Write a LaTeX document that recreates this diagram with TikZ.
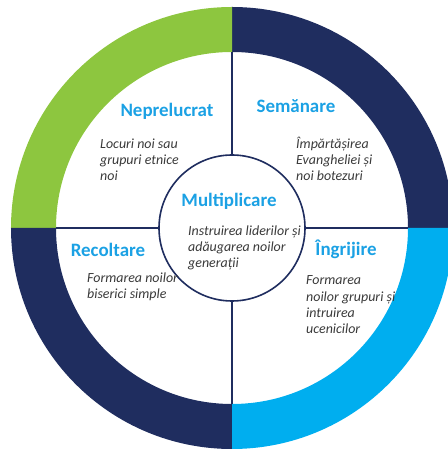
\documentclass[tikz,border=0pt]{standalone}
\usepackage{fontspec}
\setmainfont{Carlito}
\definecolor{ringgreen}{HTML}{8DC63F}
\definecolor{ringnavy}{HTML}{1F2D5F}
\definecolor{ringblue}{HTML}{00AEEF}
\definecolor{titleblue}{HTML}{1BA1E4}
\definecolor{bodygrey}{HTML}{3A3A3A}

\begin{document}
\begin{tikzpicture}[x=1bp,y=1bp,
    title/.style={font=\fontsize{19}{19}\selectfont\bfseries,
        text=titleblue, anchor=base, inner sep=0pt},
    body/.style={font=\fontsize{14}{16.5}\selectfont\itshape,
        text=bodygrey, align=left, anchor=base west, inner sep=0pt},
    divider/.style={draw=ringnavy, line width=1.6bp},
    hub/.style={circle, draw=ringnavy, line width=1.6bp, fill=white,
        minimum size=146bp, inner sep=0pt}]

    \useasboundingbox (-232,-221) rectangle (216,228);

    % outer ring, one colour per quarter
    \foreach \a/\c [evaluate=\a as \b using \a+90] in
        {0/ringnavy, 90/ringgreen, 180/ringnavy, 270/ringblue}
        \fill[\c] (\a:221) arc[start angle=\a, end angle=\b, radius=221bp]
            -- (\b:176) arc[start angle=\b, end angle=\a, radius=176bp] -- cycle;

    \coordinate (n) at (90:176);
    \coordinate (s) at (270:176);
    \coordinate (w) at (180:176);
    \coordinate (e) at (0:176);

    \node[hub] (hub) at (0,0) {};

    \path[divider]
        (hub.north) edge (n)
        (hub.south) edge (s)
        (hub.west)  edge (w)
        (hub.east)  edge (e);

    \node[title] (neprelucrat) at (-65,111)  {Neprelucrat};
    \node[title] (semanare)    at (64,115)   {Semănare};
    \node[title] (multiplicare) at (-3,21)   {Multiplicare};
    \node[title] (recoltare)   at (-124,-29) {Recoltare};
    \node[title] (ingrijire)   at (114,-28)  {Îngrijire};

    % body texts: base is the baseline of the last line
    \node[body] (neprelucratTxt) at (-132,47)
        {Locuri noi sau\\grupuri etnice\\noi};
    \node[body] (semanareTxt) at (64,47)
        {Împărtășirea\\Evangheliei și\\noi botezuri};
    \node[body] (multiplicareTxt) at (-44,-40)
        {Instruirea liderilor și\\adăugarea noilor\\generații};
    \node[body] (recoltareTxt) at (-145,-71)
        {Formarea noilor\\biserici simple};
    \node[body] (ingrijireTxt) at (74,-106)
        {Formarea\\noilor grupuri și\\intruirea\\ucenicilor};
\end{tikzpicture}
\end{document}
